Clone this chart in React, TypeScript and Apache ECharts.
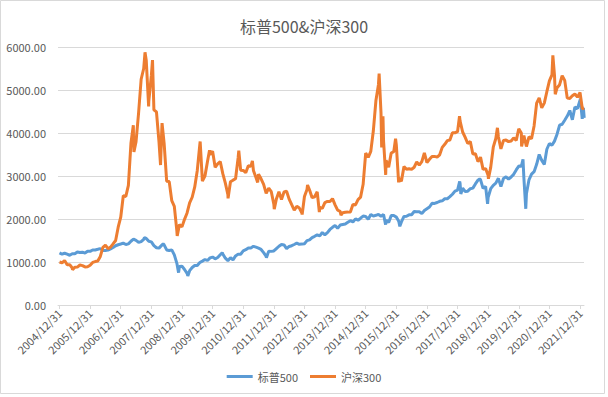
import React, { useEffect, useRef } from "react";
import * as echarts from "echarts";

const TITLE = "标普500&沪深300";
const SERIES_NAMES = ["标普500", "沪深300"];
const COLORS = ["#5B9BD5", "#ED7D31"];

// Y ticks
const Y_MIN = 0;
const Y_MAX = 6000;
const Y_STEP = 1000;

// X tick positions: each is 12/31 of the previous year (year fraction)
const X_TICK_YEARS = [2005, 2006, 2007, 2008, 2009, 2010, 2011, 2012, 2013, 2014, 2015, 2016, 2017, 2018, 2019, 2020, 2021, 2022];

// Month-end values from 2004-12 to 2021-12
const spMonthly = [
  1212,
  1181, 1204, 1181, 1157, 1192, 1191, 1234, 1220, 1229, 1207, 1249, 1248,
  1280, 1281, 1295, 1311, 1270, 1270, 1277, 1304, 1336, 1378, 1401, 1418,
  1438, 1407, 1421, 1482, 1531, 1503, 1455, 1474, 1527, 1549, 1481, 1468,
  1379, 1331, 1323, 1386, 1400, 1280, 1267, 1283, 1166, 969, 896, 903,
  826, 735, 798, 873, 919, 919, 987, 1021, 1057, 1036, 1096, 1115,
  1074, 1104, 1169, 1187, 1089, 1031, 1102, 1049, 1141, 1183, 1181, 1258,
  1286, 1327, 1326, 1364, 1345, 1321, 1292, 1219, 1131, 1253, 1247, 1258,
  1312, 1366, 1408, 1398, 1310, 1362, 1379, 1407, 1441, 1412, 1416, 1426,
  1498, 1515, 1569, 1598, 1631, 1606, 1686, 1633, 1682, 1757, 1806, 1848,
  1783, 1859, 1872, 1884, 1924, 1960, 1931, 2003, 1972, 2018, 2068, 2059,
  1995, 2105, 2068, 2086, 2107, 2063, 2104, 1972, 1920, 2079, 2080, 2044,
  1940, 1932, 2060, 2065, 2097, 2099, 2174, 2171, 2168, 2126, 2199, 2239,
  2279, 2364, 2363, 2384, 2412, 2423, 2470, 2472, 2519, 2575, 2648, 2674,
  2824, 2714, 2641, 2648, 2705, 2718, 2816, 2902, 2914, 2712, 2760, 2507,
  2704, 2784, 2834, 2946, 2752, 2942, 2980, 2926, 2977, 3038, 3141, 3231,
  3226, 2954, 2585, 2912, 3044, 3100, 3271, 3500, 3363, 3270, 3622, 3756,
  3714, 3811, 3973, 4181, 4204, 4298, 4395, 4523, 4308, 4605, 4567, 4766,
];

// Intra-month highs/lows and the 2022 tail
const spExtraDates = [
  "2007-10-09", "2008-05-19", "2008-11-20", "2009-03-09", "2010-04-23", "2010-07-02",
  "2011-10-03", "2015-08-25", "2016-02-11", "2018-01-26", "2018-02-08", "2018-09-20",
  "2018-12-24", "2020-02-19", "2020-03-23", "2022-01-03", "2022-01-27", "2022-02-09", "2022-02-18",
];
const spExtraValues = [
  1565, 1426, 752, 677, 1217, 1022,
  1099, 1868, 1829, 2873, 2581, 2931,
  2351, 3386, 2237, 4797, 4327, 4587, 4349,
];

const csMonthly = [
  1000,
  982, 1035, 937, 938, 860, 880, 882, 930, 915, 885, 888, 923,
  990, 1010, 1025, 1130, 1340, 1390, 1310, 1345, 1420, 1500, 1810, 2041,
  2540, 2525, 2781, 3760, 3900, 3800, 4470, 5250, 5500, 5688, 4736, 5338,
  4538, 4490, 3790, 3940, 3763, 2879, 2870, 2425, 2293, 1718, 1870, 1817,
  1992, 2140, 2374, 2506, 2745, 3129, 3733, 2880, 2997, 3337, 3496, 3575,
  3204, 3282, 3338, 3055, 2834, 2564, 2868, 2903, 2935, 3419, 3136, 3128,
  3076, 3239, 3223, 3130, 2963, 3044, 2935, 2806, 2594, 2716, 2634, 2346,
  2464, 2634, 2455, 2627, 2646, 2462, 2332, 2204, 2294, 2254, 2140, 2523,
  2688, 2674, 2496, 2518, 2633, 2269, 2247, 2383, 2409, 2408, 2473, 2330,
  2204, 2178, 2146, 2158, 2160, 2165, 2338, 2327, 2451, 2508, 2808, 3533,
  3434, 3572, 4051, 4749, 5123, 4473, 3816, 3366, 3203, 3534, 3566, 3731,
  2946, 2877, 3218, 3156, 3169, 3154, 3204, 3327, 3253, 3336, 3538, 3310,
  3387, 3452, 3456, 3439, 3492, 3666, 3737, 3822, 3837, 4006, 4006, 4030,
  4275, 4023, 3898, 3756, 3802, 3510, 3517, 3334, 3438, 3153, 3173, 3010,
  3201, 3670, 3872, 3913, 3630, 3826, 3835, 3799, 3814, 3886, 3829, 4096,
  3999, 3940, 3686, 3912, 3867, 4164, 4695, 4816, 4587, 4695, 4960, 5211,
  5351, 5336, 5048, 5123, 5331, 5224, 4811, 4805, 4866, 4908, 4833, 4940,
];

const csExtraDates = [
  "2005-06-03", "2007-05-29", "2007-06-05", "2007-10-16", "2007-11-28", "2008-01-14",
  "2008-04-18", "2008-05-06", "2008-11-04", "2009-08-04", "2009-11-24", "2010-07-02",
  "2010-11-08", "2011-04-18", "2011-06-20", "2012-01-05", "2012-12-03", "2013-02-06",
  "2013-06-25", "2014-03-10", "2015-06-08", "2015-07-08", "2015-07-24", "2015-08-26",
  "2015-12-22", "2016-01-28", "2018-01-24", "2019-01-03", "2019-04-19", "2020-02-03",
  "2021-02-10", "2021-03-09", "2022-01-28", "2022-02-18",
];
const csExtraValues = [
  818, 4180, 3560, 5877, 4620, 5697,
  3255, 4230, 1607, 3803, 3600, 2480,
  3590, 3350, 2850, 2230, 2102, 2791,
  2160, 2090, 5380, 3663, 4390, 3025,
  3870, 2853, 4389, 2935, 4120, 3688,
  5807, 4900, 4564, 4580,
];

function toYear(d: string): number {
  const [y, m, dd] = d.split("-").map(Number);
  const dim = new Date(Date.UTC(y, m, 0)).getUTCDate();
  return y + (m - 1 + dd / dim) / 12;
}

function buildSeries(monthly: number[], extraDates: string[], extraValues: number[]) {
  const pts: [number, number][] = monthly.map((v, i) => [2005 + i / 12, v]);
  extraDates.forEach((d, i) => pts.push([toYear(d), extraValues[i]]));
  pts.sort((a, b) => a[0] - b[0]);
  return pts;
}

export default function App() {
  const ref = useRef<HTMLDivElement>(null);
  useEffect(() => {
    document.body.style.margin = "0";
    if (!ref.current) return;
    const chart = echarts.init(ref.current, undefined, { renderer: "svg" });
    const font = "'Noto Sans CJK SC', 'Noto Sans', sans-serif";
    chart.setOption({
      animation: false,
      textStyle: { fontFamily: font },
      graphic: [
        {
          type: "rect",
          shape: { x: 0.5, y: 0.5, width: 604, height: 393 },
          style: { fill: "none", stroke: "#d9d9d9", lineWidth: 1 },
          silent: true,
        },
      ],
      title: {
        text: TITLE,
        left: "center",
        top: 13,
        textStyle: { fontSize: 16, fontWeight: "normal", color: "#595959", fontFamily: font },
      },
      legend: {
        bottom: 10,
        left: "center",
        icon: "rect",
        itemWidth: 26,
        itemHeight: 3,
        itemGap: 12,
        textStyle: { fontSize: 11, color: "#595959", fontFamily: font },
        data: SERIES_NAMES,
      },
      grid: { left: 58, right: 24, top: 47, bottom: 92 },
      xAxis: {
        type: "value",
        min: 2004.951,
        max: 2022.13,
        axisLine: { show: true, lineStyle: { color: "#d9d9d9" } },
        axisTick: { show: true, length: 4, lineStyle: { color: "#d9d9d9" }, customValues: X_TICK_YEARS },
        splitLine: { show: false },
        axisLabel: {
          customValues: X_TICK_YEARS,
          rotate: 45,
          fontSize: 11,
          color: "#595959",
          margin: 6,
          formatter: (v: number) => `${Math.round(v) - 1}/12/31`,
        },
      },
      yAxis: {
        type: "value",
        min: Y_MIN,
        max: Y_MAX,
        interval: Y_STEP,
        axisLine: { show: false },
        axisTick: { show: false },
        splitLine: { lineStyle: { color: "#d9d9d9" } },
        axisLabel: {
          fontSize: 11,
          color: "#595959",
          margin: 12,
          formatter: (v: number) => v.toFixed(2),
        },
      },
      series: [
        {
          name: SERIES_NAMES[0],
          type: "line",
          data: buildSeries(spMonthly, spExtraDates, spExtraValues),
          showSymbol: false,
          symbol: "none",
          lineStyle: { color: COLORS[0], width: 3 },
          itemStyle: { color: COLORS[0] },
        },
        {
          name: SERIES_NAMES[1],
          type: "line",
          data: buildSeries(csMonthly, csExtraDates, csExtraValues),
          showSymbol: false,
          symbol: "none",
          lineStyle: { color: COLORS[1], width: 3 },
          itemStyle: { color: COLORS[1] },
        },
      ],
    });
    return () => chart.dispose();
  }, []);
  return <div ref={ref} style={{ width: 608, height: 397 }} />;
}
